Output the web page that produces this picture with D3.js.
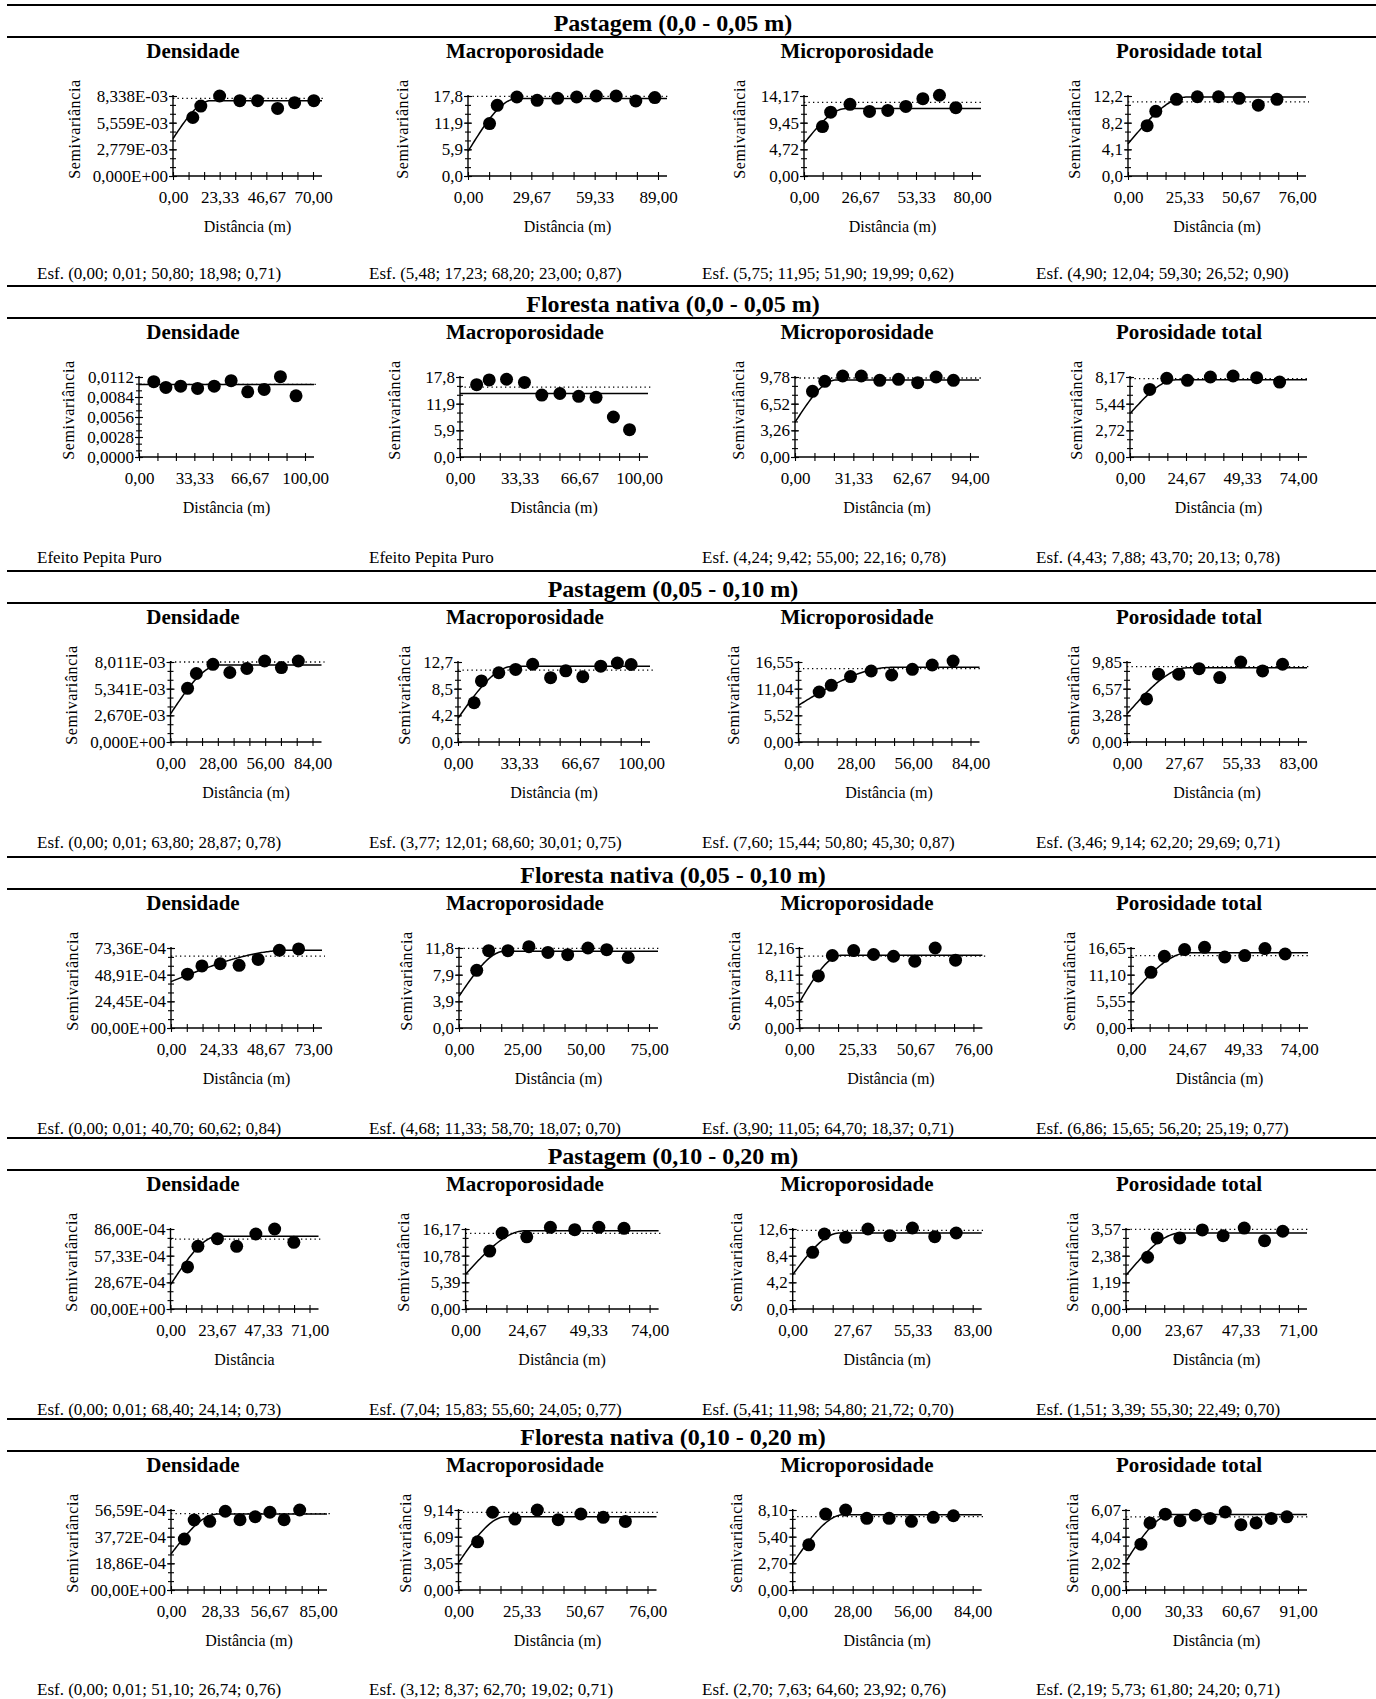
<!DOCTYPE html>
<html><head><meta charset="utf-8">
<script src="https://cdn.jsdelivr.net/npm/d3@7"></script>
<style>
body{margin:0;background:#fff;overflow:hidden}
svg{display:block}
text{font-family:"Liberation Serif","Times New Roman",serif;fill:#000}
</style>
</head><body>
<svg id="chart" width="1376" height="1699"></svg>
<script>
// ---------------- DATA ----------------
const sectionTitles = ["Pastagem (0,0 - 0,05 m)", "Floresta nativa (0,0 - 0,05 m)", "Pastagem (0,05 - 0,10 m)",
  "Floresta nativa (0,05 - 0,10 m)", "Pastagem (0,10 - 0,20 m)", "Floresta nativa (0,10 - 0,20 m)"];
const panelTitles = ["Densidade", "Macroporosidade", "Microporosidade", "Porosidade total"];
const xTitles = [
  ["Distância (m)", "Distância (m)", "Distância (m)", "Distância (m)"],
  ["Distância (m)", "Distância (m)", "Distância (m)", "Distância (m)"],
  ["Distância (m)", "Distância (m)", "Distância (m)", "Distância (m)"],
  ["Distância (m)", "Distância (m)", "Distância (m)", "Distância (m)"],
  ["Distância", "Distância (m)", "Distância (m)", "Distância (m)"],
  ["Distância (m)", "Distância (m)", "Distância (m)", "Distância (m)"]];
const yTitle = "Semivariância";

// Section 1: Pastagem (0,0 - 0,05 m)
const xLabS1 = [["0,00","23,33","46,67","70,00"],["0,00","29,67","59,33","89,00"],["0,00","26,67","53,33","80,00"],["0,00","25,33","50,67","76,00"]];
const yLabS1 = [["0,000E+00","2,779E-03","5,559E-03","8,338E-03"],["0,0","5,9","11,9","17,8"],["0,00","4,72","9,45","14,17"],["0,0","4,1","8,2","12,2"]];
const lagS1 = [[9.9,13.9,23.3,33.4,42.3,52.3,60.8,70.4],[10.1,13.7,22.9,32.4,42.0,50.9,60.1,69.4,78.6,87.5],[8.8,12.7,21.9,31.2,39.9,48.5,56.6,64.5,72.3],[8.6,12.5,21.8,31.2,40.7,50.0,58.6,67.0]];
const gamS1 = [[6.10e-3,7.29e-3,8.34e-3,7.85e-3,7.85e-3,7.04e-3,7.64e-3,7.85e-3],[11.66,15.73,17.58,16.84,17.28,17.58,17.8,17.8,16.69,17.44],[8.76,11.31,12.69,11.44,11.61,12.33,13.7,14.3,12.1],[7.68,9.86,11.69,12.09,12.09,11.84,10.8,11.69]];
const nugS1 = [3.9e-3, 5.48, 5.75, 4.90];
const sillS1 = [7.85e-3, 17.23, 11.95, 12.04];
const rangeS1 = [18.98, 23.00, 19.99, 26.52];
const dotS1 = [8.09e-3, 17.7, 13.04, 11.3];
const fitS1 = ["Esf. (0,00; 0,01; 50,80; 18,98; 0,71)","Esf. (5,48; 17,23; 68,20; 23,00; 0,87)","Esf. (5,75; 11,95; 51,90; 19,99; 0,62)","Esf. (4,90; 12,04; 59,30; 26,52; 0,90)"];

// Section 2: Floresta nativa (0,0 - 0,05 m)
const xLabS2 = [["0,00","33,33","66,67","100,00"],["0,00","33,33","66,67","100,00"],["0,00","31,33","62,67","94,00"],["0,00","24,67","49,33","74,00"]];
const yLabS2 = [["0,0000","0,0028","0,0056","0,0084","0,0112"],["0,0","5,9","11,9","17,8"],["0,00","3,26","6,52","9,78"],["0,00","2,72","5,44","8,17"]];
const lagS2 = [[8.9,16.2,25.1,35.3,45.3,55.5,65.5,75.4,85.2,94.6],[9.3,16.3,26.0,36.0,45.7,55.8,66.3,76.0,85.7,94.7],[9.4,16.0,25.6,35.6,45.5,55.6,65.9,75.8,85.1],[8.7,16.2,25.3,35.4,45.4,55.8,65.9]];
const gamS2 = [[0.01054,0.00974,0.00992,0.0096,0.00992,0.01068,0.00913,0.00946,0.01124,0.00857],[16.1,17.16,17.3,16.6,13.77,14.13,13.5,13.28,8.9,6.08],[8.03,9.25,9.9,9.9,9.37,9.5,9.09,9.78,9.37],[6.9,8.03,7.83,8.17,8.27,8.1,7.65]];
const nugS2 = [0.01016, 14.13, 4.24, 4.43];
const sillS2 = [0.01016, 14.13, 9.42, 7.88];
const rangeS2 = [0, 0, 22.16, 20.13];
const dotS2 = [0.01016, 15.55, 9.66, 8.0];
const fitS2 = ["Efeito Pepita Puro","Efeito Pepita Puro","Esf. (4,24; 9,42; 55,00; 22,16; 0,78)","Esf. (4,43; 7,88; 43,70; 20,13; 0,78)"];

// Section 3: Pastagem (0,05 - 0,10 m)
const xLabS3 = [["0,00","28,00","56,00","84,00"],["0,00","33,33","66,67","100,00"],["0,00","28,00","56,00","84,00"],["0,00","27,67","55,33","83,00"]];
const yLabS3 = [["0,000E+00","2,670E-03","5,341E-03","8,011E-03"],["0,0","4,2","8,5","12,7"],["0,00","5,52","11,04","16,55"],["0,00","3,28","6,57","9,85"]];
const lagS3 = [[10.1,15.3,25.1,35.1,45.2,55.7,65.6,75.6],[8.8,12.8,22.3,31.5,40.8,50.6,58.9,68.2,78.0,87.1,94.6],[10.1,16.0,25.4,35.5,45.5,55.6,65.3,75.5],[9.5,15.3,25.1,35.0,45.0,55.2,65.8,75.5]];
const gamS3 = [[5.37e-3,6.86e-3,7.78e-3,6.96e-3,7.36e-3,8.11e-3,7.45e-3,8.11e-3],[6.23,9.7,10.99,11.52,12.34,10.21,11.3,10.37,12.03,12.54,12.3],[10.34,11.73,13.53,14.69,13.86,15.04,15.93,16.76],[5.3,8.35,8.35,9.03,7.93,9.85,8.75,9.57]];
const nugS3 = [2.81e-3, 3.77, 7.60, 3.46];
const sillS3 = [7.71e-3, 12.01, 15.44, 9.14];
const rangeS3 = [28.87, 30.01, 45.30, 29.69];
const dotS3 = [8.01e-3, 11.41, 15.18, 9.28];
const fitS3 = ["Esf. (0,00; 0,01; 63,80; 28,87; 0,78)","Esf. (3,77; 12,01; 68,60; 30,01; 0,75)","Esf. (7,60; 15,44; 50,80; 45,30; 0,87)","Esf. (3,46; 9,14; 62,20; 29,69; 0,71)"];

// Section 4: Floresta nativa (0,05 - 0,10 m)
const xLabS4 = [["0,00","24,33","48,67","73,00"],["0,00","25,00","50,00","75,00"],["0,00","25,33","50,67","76,00"],["0,00","24,67","49,33","74,00"]];
const yLabS4 = [["00,00E+00","24,45E-04","48,91E-04","73,36E-04"],["0,0","3,9","7,9","11,8"],["0,00","4,05","8,11","12,16"],["0,00","5,55","11,10","16,65"]];
const lagS4 = [[8.5,15.9,25.3,35.0,44.8,55.7,65.6],[7.0,11.7,19.3,27.6,35.1,42.9,50.9,58.3,66.8],[8.3,14.4,23.7,32.4,41.1,50.4,59.3,68.2],[8.8,14.7,23.6,32.4,41.3,50.1,59.0,67.9]];
const gamS4 = [[49.4e-4,56.9e-4,58.9e-4,57.5e-4,62.9e-4,71.3e-4,72.5e-4],[8.5,11.41,11.41,12.0,11.15,10.81,11.8,11.56,10.4],[7.91,11.02,11.77,11.17,10.91,10.16,12.16,10.31],[11.59,14.92,16.32,16.79,14.78,15.07,16.53,15.4]];
const nugS4 = [42.5e-4, 4.68, 3.90, 6.86];
const sillS4 = [71.3e-4, 11.33, 11.05, 15.65];
const rangeS4 = [60.62, 18.07, 18.37, 25.19];
const dotS4 = [65.9e-4, 11.75, 10.91, 15.07];
const fitS4 = ["Esf. (0,00; 0,01; 40,70; 60,62; 0,84)","Esf. (4,68; 11,33; 58,70; 18,07; 0,70)","Esf. (3,90; 11,05; 64,70; 18,37; 0,71)","Esf. (6,86; 15,65; 56,20; 25,19; 0,77)"];

// Section 5: Pastagem (0,10 - 0,20 m)
const xLabS5 = [["0,00","23,67","47,33","71,00"],["0,00","24,67","49,33","74,00"],["0,00","27,67","55,33","83,00"],["0,00","23,67","47,33","71,00"]];
const yLabS5 = [["00,00E+00","28,67E-04","57,33E-04","86,00E-04"],["0,00","5,39","10,78","16,17"],["0,0","4,2","8,4","12,6"],["0,00","1,19","2,38","3,57"]];
const lagS5 = [[8.7,14.0,24.0,33.8,43.6,53.2,63.0],[9.7,14.7,24.6,34.1,43.9,53.6,63.7],[9.2,14.6,24.4,34.7,44.8,55.2,65.5,75.4],[8.9,12.9,22.2,31.5,40.1,48.8,57.2,64.7]];
const gamS5 = [[45.2e-4,67.4e-4,75.6e-4,67.4e-4,80.6e-4,86.0e-4,71.7e-4],[11.7,15.34,14.59,16.51,16.03,16.51,16.31],[8.93,11.81,11.29,12.6,11.55,12.76,11.39,11.97],[2.31,3.17,3.17,3.53,3.27,3.61,3.05,3.47]];
const nugS5 = [26e-4, 7.04, 5.41, 1.51];
const sillS5 = [78.1e-4, 15.83, 11.98, 3.39];
const rangeS5 = [24.14, 24.05, 21.72, 22.49];
const dotS5 = [75.2e-4, 15.28, 12.39, 3.55];
const fitS5 = ["Esf. (0,00; 0,01; 68,40; 24,14; 0,73)","Esf. (7,04; 15,83; 55,60; 24,05; 0,77)","Esf. (5,41; 11,98; 54,80; 21,72; 0,70)","Esf. (1,51; 3,39; 55,30; 22,49; 0,70)"];

// Section 6: Floresta nativa (0,10 - 0,20 m)
const xLabS6 = [["0,00","28,33","56,67","85,00"],["0,00","25,33","50,67","76,00"],["0,00","28,00","56,00","84,00"],["0,00","30,33","60,67","91,00"]];
const yLabS6 = [["00,00E+00","18,86E-04","37,72E-04","56,59E-04"],["0,00","3,05","6,09","9,14"],["0,00","2,70","5,40","8,10"],["0,00","2,02","4,04","6,07"]];
const lagS6 = [[7.7,13.4,22.4,31.4,39.9,48.7,57.2,65.4,74.4],[7.7,13.7,22.7,31.7,40.1,49.2,58.2,67.1],[7.5,15.4,24.7,34.6,45.0,55.4,65.6,75.0],[7.9,12.7,20.8,28.6,36.7,44.5,52.5,60.8,68.8,76.8,85.1]];
const gamS6 = [[36.0e-4,49.5e-4,48.6e-4,55.7e-4,49.7e-4,51.8e-4,55.0e-4,49.7e-4,56.6e-4],[5.5,8.88,8.11,9.14,8.03,8.68,8.3,7.84],[4.57,7.69,8.1,7.26,7.26,6.95,7.36,7.52],[3.48,5.09,5.75,5.26,5.68,5.43,5.92,4.96,5.09,5.43,5.55]];
const nugS6 = [25.5e-4, 3.12, 2.70, 2.19];
const sillS6 = [53.7e-4, 8.37, 7.63, 5.73];
const rangeS6 = [26.74, 19.02, 23.92, 24.20];
const dotS6 = [54.0e-4, 8.88, 7.43, 5.55];
const fitS6 = ["Esf. (0,00; 0,01; 51,10; 26,74; 0,76)","Esf. (3,12; 8,37; 62,70; 19,02; 0,71)","Esf. (2,70; 7,63; 64,60; 23,92; 0,76)","Esf. (2,19; 5,73; 61,80; 24,20; 0,71)"];

const sections = [
  {xLab:xLabS1,yLab:yLabS1,lag:lagS1,gam:gamS1,nug:nugS1,sill:sillS1,range:rangeS1,dot:dotS1,fit:fitS1},
  {xLab:xLabS2,yLab:yLabS2,lag:lagS2,gam:gamS2,nug:nugS2,sill:sillS2,range:rangeS2,dot:dotS2,fit:fitS2},
  {xLab:xLabS3,yLab:yLabS3,lag:lagS3,gam:gamS3,nug:nugS3,sill:sillS3,range:rangeS3,dot:dotS3,fit:fitS3},
  {xLab:xLabS4,yLab:yLabS4,lag:lagS4,gam:gamS4,nug:nugS4,sill:sillS4,range:rangeS4,dot:dotS4,fit:fitS4},
  {xLab:xLabS5,yLab:yLabS5,lag:lagS5,gam:gamS5,nug:nugS5,sill:sillS5,range:rangeS5,dot:dotS5,fit:fitS5},
  {xLab:xLabS6,yLab:yLabS6,lag:lagS6,gam:gamS6,nug:nugS6,sill:sillS6,range:rangeS6,dot:dotS6,fit:fitS6}];

// ---------------- LAYOUT ----------------
const secTop = [5, 286, 571, 857, 1138, 1419];
const axX = [[173,468,804,1128],[139,460,795,1130],[170.5,458,798.5,1127],[171,459,799.4,1131],[170.5,465.6,792.7,1126],[171,458.5,792.7,1126]];
const axW = [[140,190,168,169],[166,179,175,168],[142,183,172,171],[142,190,174,168],[139,184,180,172],[147,189,180,172]];
const yTitleGap = [[0,12,3,0],[0,12,3,0],[0,0,3,0],[0,0,3,0],[0,0,3,0],[0,0,3,0]];
const fitDY = [274, 277, 277, 277, 277, 276];
const titleCX = [193, 525, 857, 1189];
const fitX = [37, 369, 702, 1036];
const FONT = '"Liberation Serif","Times New Roman",serif';

const svg = d3.select("#chart");
const num = s => Number(s.replace(",", "."));
const spherical = (h, c0, s, a) => (a <= 0 || h >= a) ? s : c0 + (s - c0) * (1.5 * h / a - 0.5 * Math.pow(h / a, 3));

function styleAxis(g, fs) {
  g.attr("font-family", FONT).attr("font-size", fs);
  g.selectAll(".domain").remove();
  g.selectAll("line").attr("stroke", "#000").attr("stroke-width", 1.1);
  g.selectAll("text").attr("fill", "#000");
}

sections.forEach((S, s) => {
  const y0 = secTop[s];
  svg.append("line").attr("x1", 7).attr("x2", 1376).attr("y1", y0).attr("y2", y0)
    .attr("stroke", "#000").attr("stroke-width", 2);
  svg.append("text").attr("x", 673).attr("y", y0 + 26).attr("text-anchor", "middle")
    .attr("font-weight", "bold").attr("font-size", 24).text(sectionTitles[s]);
  svg.append("line").attr("x1", 7).attr("x2", 1376).attr("y1", y0 + 32).attr("y2", y0 + 32)
    .attr("stroke", "#000").attr("stroke-width", 2);

  for (let c = 0; c < 4; c++) {
    const ax = axX[s][c], w = axW[s][c];
    const top = y0 + 91, bot = y0 + 171;
    const xl = S.xLab[c], yl = S.yLab[c];
    const xMax = num(xl[xl.length - 1]), yMax = num(yl[yl.length - 1]);
    const x = d3.scaleLinear().domain([0, xMax]).range([ax, ax + w]);
    const y = d3.scaleLinear().domain([0, yMax]).range([bot, top]);
    const xEndPx = ax + w + 9;
    const g = svg.append("g");

    g.append("text").attr("x", titleCX[c]).attr("y", y0 + 53).attr("text-anchor", "middle")
      .attr("font-weight", "bold").attr("font-size", 21).text(panelTitles[c]);

    g.append("line").attr("x1", ax).attr("x2", xEndPx).attr("y1", bot).attr("y2", bot).attr("stroke", "#000").attr("stroke-width", 1.4);
    g.append("line").attr("x1", ax).attr("x2", ax).attr("y1", bot).attr("y2", top - 1).attr("stroke", "#000").attr("stroke-width", 1.4);

    const nx = xl.length - 1, ny = yl.length - 1;
    const xMaj = xl.map((_, i) => xMax * i / nx);
    const xMin = d3.range(nx * 3 + 1).map(i => xMax * i / (nx * 3));
    const yMaj = yl.map((_, i) => yMax * i / ny);
    const yMin = d3.range(ny * 3 + 1).map(i => yMax * i / (ny * 3));

    styleAxis(g.append("g").attr("transform", `translate(0,${bot})`).call(d3.axisBottom(x).tickValues(xMin).tickSize(4).tickFormat("")), 17);
    styleAxis(g.append("g").attr("transform", `translate(0,${bot})`).call(d3.axisTop(x).tickValues(xMin).tickSize(4).tickFormat("")), 17);
    styleAxis(g.append("g").attr("transform", `translate(0,${bot})`).call(d3.axisBottom(x).tickValues(xMaj).tickSize(0).tickPadding(15).tickFormat((d, i) => xl[i])), 17);

    styleAxis(g.append("g").attr("transform", `translate(${ax},0)`).call(d3.axisLeft(y).tickValues(yMin).tickSize(3).tickFormat("")), 17);
    styleAxis(g.append("g").attr("transform", `translate(${ax},0)`).call(d3.axisRight(y).tickValues(yMin).tickSize(3).tickFormat("")), 17);
    styleAxis(g.append("g").attr("transform", `translate(${ax},0)`).call(d3.axisRight(y).tickValues(yMaj).tickSize(4).tickFormat("")), 17);
    const yLabG = g.append("g").attr("transform", `translate(${ax},0)`).call(d3.axisLeft(y).tickValues(yMaj).tickSize(4).tickPadding(1).tickFormat((d, i) => yl[i]));
    styleAxis(yLabG, 17);
    let maxW = 0;
    yLabG.selectAll("text").each(function () { maxW = Math.max(maxW, this.getComputedTextLength()); });

    g.append("text").attr("transform", `translate(${ax - 5 - maxW - 13 - yTitleGap[s][c]},${y0 + 124}) rotate(-90)`)
      .attr("text-anchor", "middle").attr("font-size", 16).attr("letter-spacing", 0.6).text(yTitle);

    g.append("text").attr("x", (ax + xEndPx) / 2).attr("y", y0 + 227).attr("text-anchor", "middle")
      .attr("font-size", 16).text(xTitles[s][c]);

    g.append("line").attr("x1", ax).attr("x2", xEndPx + 3).attr("y1", y(S.dot[c])).attr("y2", y(S.dot[c]))
      .attr("stroke", "#000").attr("stroke-width", 1.3).attr("stroke-dasharray", "1.3,3.2");

    const hEnd = x.invert(xEndPx);
    const hs = d3.range(0, 121).map(i => hEnd * i / 120);
    const line = d3.line().x(h => x(h)).y(h => y(spherical(h, S.nug[c], S.sill[c], S.range[c])));
    g.append("path").attr("d", line(hs)).attr("fill", "none").attr("stroke", "#000").attr("stroke-width", 1.5);

    g.selectAll("circle.pt").data(S.lag[c].map((h, i) => [h, S.gam[c][i]])).enter()
      .append("circle").attr("class", "pt").attr("cx", d => x(d[0])).attr("cy", d => y(d[1])).attr("r", 6.5).attr("fill", "#000");

    g.append("text").attr("x", fitX[c]).attr("y", y0 + fitDY[s]).attr("font-size", 17).text(S.fit[c]);
  }
});
</script>
</body></html>
